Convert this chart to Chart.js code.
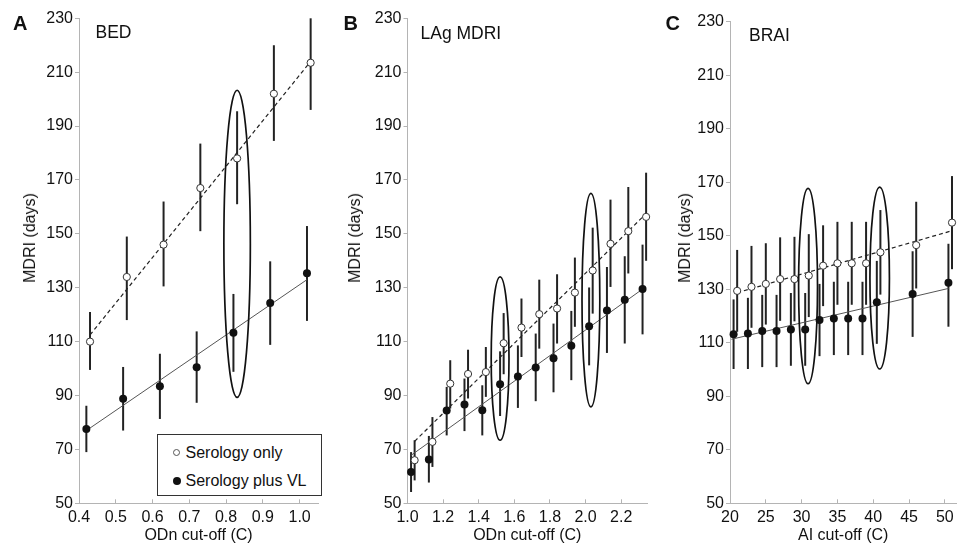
<!DOCTYPE html>
<html>
<head>
<meta charset="utf-8">
<script src="https://cdn.jsdelivr.net/npm/chart.js@4.4.1/dist/chart.umd.min.js"></script>
<style>
  body { margin: 0; background: #fff; }
  #wrap { position: relative; width: 963px; height: 551px; overflow: hidden;
          font-family: "Liberation Sans", Arial, sans-serif; color: #111; }
  canvas { position: absolute; top: 0; }
  .t { position: absolute; white-space: nowrap; line-height: 1; }
  .letter { font-size: 20px; font-weight: bold; }
  .name { font-size: 17.5px; }
  .ytitle { font-size: 16px; transform: translate(-50%, -50%) rotate(-90deg); }
  #legend { position: absolute; left: 157px; top: 434px; width: 165px; height: 62px;
            box-sizing: border-box; border: 1px solid #333; background: #fff; }
  .dot { position: absolute; border-radius: 50%; box-sizing: border-box; }
</style>
</head>
<body>
<div id="wrap">
  <canvas id="chartA" width="323" height="551" style="left:0px"></canvas>
  <canvas id="chartB" width="322" height="551" style="left:330px"></canvas>
  <canvas id="chartC" width="308" height="551" style="left:655px"></canvas>

  <div class="t letter" style="left:13px; top:12.5px">A</div>
  <div class="t letter" style="left:343.5px; top:12.5px">B</div>
  <div class="t letter" style="left:665.5px; top:13px">C</div>

  <div class="t name" style="left:95.5px; top:23.5px">BED</div>
  <div class="t name" style="left:420.5px; top:24.5px">LAg MDRI</div>
  <div class="t name" style="left:749px; top:27px">BRAI</div>

  <div class="t ytitle" style="left:30px; top:238px">MDRI (days)</div>
  <div class="t ytitle" style="left:355px; top:238px">MDRI (days)</div>
  <div class="t ytitle" style="left:685px; top:238px">MDRI (days)</div>

  <div id="legend">
    <div class="dot" style="left:15px; top:14px; width:7px; height:7px; border:1px solid #555; background:#fff"></div>
    <div class="t" style="left:27.5px; top:9.5px; font-size:16px">Serology only</div>
    <div class="dot" style="left:15px; top:42px; width:8px; height:8px; background:#111"></div>
    <div class="t" style="left:27.5px; top:37.5px; font-size:16px">Serology plus VL</div>
  </div>
</div>

<script>
// shared y axis
var yTicks = [50, 70, 90, 110, 130, 150, 170, 190, 210, 230];

// A: BED
var bedXTicks = [0.4, 0.5, 0.6, 0.7, 0.8, 0.9, 1.0];
var bedOnlyX  = [0.43, 0.53, 0.63, 0.73, 0.83, 0.93, 1.03];
var bedOnlyY  = [110, 134, 146, 167, 178, 202, 213.5];
var bedOnlyLo = [99.5, 118, 130.5, 151, 161, 184.5, 196];
var bedOnlyHi = [121, 149, 162, 183.5, 195.5, 220, 230];
var bedPlusX  = [0.42, 0.52, 0.62, 0.72, 0.82, 0.92, 1.02];
var bedPlusY  = [77.6, 88.8, 93.4, 100.5, 113.3, 124.3, 135.4];
var bedPlusLo = [69, 77, 81.3, 87.3, 98.8, 108.8, 117.7];
var bedPlusHi = [86.2, 100.6, 105.5, 113.8, 127.7, 139.8, 152.9];
var bedOnlyFitX = [0.43, 1.03], bedOnlyFitY = [112.5, 214];
var bedPlusFitX = [0.42, 1.02], bedPlusFitY = [77, 133];
var bedOvals = [[0.83, 146.3, 0.036, 57]];   // cx, cy, rx, ry

// B: LAg MDRI
var lagXTicks = [1.0, 1.2, 1.4, 1.6, 1.8, 2.0, 2.2];
var lagOnlyX  = [1.04, 1.14, 1.24, 1.34, 1.44, 1.54, 1.64, 1.74, 1.84, 1.94, 2.04, 2.14, 2.24, 2.34];
var lagOnlyY  = [66, 72.8, 94.4, 98, 98.7, 109.4, 115.2, 120.2, 122.3, 128.2, 136.4, 146.3, 151, 156.3];
var lagOnlyLo = [58.5, 63.5, 85.2, 88.9, 89.5, 97.9, 104.3, 107.4, 109.3, 115.5, 120.4, 130.3, 135.3, 140];
var lagOnlyHi = [73.4, 82, 103.1, 107, 108, 120.6, 126, 133, 135, 141.2, 152.3, 162.7, 167.4, 172.7];
var lagPlusX  = [1.02, 1.12, 1.22, 1.32, 1.42, 1.52, 1.62, 1.72, 1.82, 1.92, 2.02, 2.12, 2.22, 2.32];
var lagPlusY  = [61.6, 66.3, 84.4, 86.7, 84.5, 94.2, 97.1, 100.4, 103.8, 108.5, 115.7, 121.6, 125.5, 129.5];
var lagPlusLo = [54.2, 57.7, 75.2, 76.8, 75.2, 82.4, 85.4, 87.9, 91.2, 95.7, 101.2, 105.8, 109.3, 112.7];
var lagPlusHi = [69, 75, 93.2, 96.3, 93.8, 106.4, 108.6, 113, 116.7, 121.4, 130.1, 137.7, 141.7, 146];
var lagOnlyFitX = [1.04, 2.34], lagOnlyFitY = [73, 157.5];
var lagPlusFitX = [1.02, 2.32], lagPlusFitY = [67.8, 129.5];
var lagOvals = [[1.52, 103.7, 0.05, 30.3], [2.03, 125.4, 0.05, 39.6]];

// C: BRAI
var braiXTicks = [20, 25, 30, 35, 40, 45, 50];
var braiOnlyX  = [21, 23, 25, 27, 29, 31, 33, 35, 37, 39, 41, 46, 51];
var braiOnlyY  = [129.4, 130.9, 132, 133.8, 133.8, 135.1, 138.8, 139.7, 139.7, 139.7, 143.8, 146.5, 154.9];
var braiOnlyLo = [114.1, 115.6, 116.8, 118.2, 118, 119.6, 123.7, 124.2, 124.2, 124.2, 128, 130.3, 137.5];
var braiOnlyHi = [144.7, 146.2, 147.2, 149.4, 149.6, 150.6, 153.9, 155.2, 155.2, 155.2, 159.6, 162.7, 172.3];
var braiPlusX  = [20.5, 22.5, 24.5, 26.5, 28.5, 30.5, 32.5, 34.5, 36.5, 38.5, 40.5, 45.5, 50.5];
var braiPlusY  = [113.2, 113.5, 114.4, 114.4, 115, 115, 118.5, 119.1, 119.1, 119.1, 125.1, 128.2, 132.4];
var braiPlusLo = [100.2, 100.2, 100.9, 100.9, 101.4, 101.4, 105, 105.4, 105.4, 105.4, 109.6, 112.2, 116];
var braiPlusHi = [126.2, 126.8, 127.9, 127.9, 128.6, 128.6, 132, 132.8, 132.8, 132.8, 140.6, 144.2, 147];
var braiOnlyFitX = [21, 50.9], braiOnlyFitY = [128.7, 151.8];
var braiPlusFitX = [20.2, 50.5], braiPlusFitY = [111.3, 130.3];
var braiOvals = [[30.9, 131.2, 1.32, 36.5], [40.9, 134.2, 1.36, 34]];

var FONT = '"Liberation Sans", Arial, sans-serif';
var AXIS = '#b4b4b4';

function pts(xs, ys) {
  return xs.map(function (x, i) { return {x: x, y: ys[i]}; });
}

// vertical error bars, drawn under the points
var errorBars = {
  id: 'errorBars',
  beforeDatasetsDraw: function (chart) {
    var ctx = chart.ctx, xs = chart.scales.x, ys = chart.scales.y;
    ctx.save();
    ctx.strokeStyle = '#222';
    ctx.lineWidth = 2;
    chart.data.datasets.forEach(function (ds) {
      if (!ds.errLo) return;
      ds.data.forEach(function (p, i) {
        var px = xs.getPixelForValue(p.x);
        ctx.beginPath();
        ctx.moveTo(px, ys.getPixelForValue(ds.errLo[i]));
        ctx.lineTo(px, ys.getPixelForValue(ds.errHi[i]));
        ctx.stroke();
      });
    });
    ctx.restore();
  }
};

function ovals(list) {
  return {
    id: 'ovals',
    afterDatasetsDraw: function (chart) {
      var ctx = chart.ctx, xs = chart.scales.x, ys = chart.scales.y;
      ctx.save();
      ctx.strokeStyle = '#111';
      ctx.lineWidth = 1.7;
      list.forEach(function (o) {
        var cx = xs.getPixelForValue(o[0]), cy = ys.getPixelForValue(o[1]);
        var rx = Math.abs(xs.getPixelForValue(o[0] + o[2]) - cx);
        var ry = Math.abs(ys.getPixelForValue(o[1] + o[3]) - cy);
        ctx.beginPath();
        ctx.ellipse(cx, cy, rx, ry, 0, 0, Math.PI * 2);
        ctx.stroke();
      });
      ctx.restore();
    }
  };
}

function panel(id, p) {
  return new Chart(document.getElementById(id), {
    type: 'scatter',
    data: {
      datasets: [
        {label: 'Serology only', data: pts(p.onlyX, p.onlyY), errLo: p.onlyLo, errHi: p.onlyHi, clip: false,
         pointRadius: 3.6, pointBackgroundColor: '#fff', pointBorderColor: '#333', pointBorderWidth: 1, order: 0},
        {label: 'Serology plus VL', data: pts(p.plusX, p.plusY), errLo: p.plusLo, errHi: p.plusHi, clip: false,
         pointRadius: 4, pointBackgroundColor: '#111', pointBorderColor: '#111', pointBorderWidth: 0, order: 0},
        {type: 'line', label: 'fit only', data: pts(p.onlyFitX, p.onlyFitY), borderColor: '#222', clip: false,
         borderWidth: 1.2, borderDash: [4, 3], pointRadius: 0, fill: false, order: 1},
        {type: 'line', label: 'fit plus', data: pts(p.plusFitX, p.plusFitY), borderColor: '#555', clip: false,
         borderWidth: 1, pointRadius: 0, fill: false, order: 1}
      ]
    },
    options: {
      responsive: false,
      animation: false,
      layout: {padding: {left: 0, right: p.padRight, top: p.top, bottom: 5.7}},
      plugins: {legend: {display: false}, tooltip: {enabled: false}},
      scales: {
        x: {
          type: 'linear', min: p.xMin, max: p.xMax,
          afterBuildTicks: function (s) { s.ticks = p.xTicks.map(function (v) { return {value: v}; }); },
          afterFit: function (s) { s.height = 42; },
          border: {display: true, color: AXIS, width: 1},
          grid: {display: true, drawOnChartArea: false, drawTicks: true, tickLength: -4, color: AXIS},
          ticks: {color: '#111', padding: 9, maxRotation: 0, autoSkip: false,
                  font: {family: FONT, size: 16}, callback: p.fmt},
          title: {display: true, text: p.xTitle, color: '#111', padding: 0,
                  font: {family: FONT, size: 16}}
        },
        y: {
          type: 'linear', min: 50, max: 230,
          afterBuildTicks: function (s) { s.ticks = yTicks.map(function (v) { return {value: v}; }); },
          afterFit: function (s) { s.width = p.yWidth; },
          border: {display: true, color: AXIS, width: 1},
          grid: {display: true, drawOnChartArea: false, drawTicks: true, tickLength: 4, color: AXIS},
          ticks: {color: '#111', padding: 2, font: {family: FONT, size: 16}}
        }
      }
    },
    plugins: [errorBars, ovals(p.ovals)]
  });
}

function oneDec(v) { return v.toFixed(1); }
function noDec(v) { return String(v); }

panel('chartA', {
  onlyX: bedOnlyX, onlyY: bedOnlyY, onlyLo: bedOnlyLo, onlyHi: bedOnlyHi,
  plusX: bedPlusX, plusY: bedPlusY, plusLo: bedPlusLo, plusHi: bedPlusHi,
  onlyFitX: bedOnlyFitX, onlyFitY: bedOnlyFitY, plusFitX: bedPlusFitX, plusFitY: bedPlusFitY,
  ovals: bedOvals, xTicks: bedXTicks, xMin: 0.4, xMax: 1.05, fmt: oneDec,
  xTitle: 'ODn cut-off (C)', yWidth: 79, padRight: 2, top: 18.3
});

panel('chartB', {
  onlyX: lagOnlyX, onlyY: lagOnlyY, onlyLo: lagOnlyLo, onlyHi: lagOnlyHi,
  plusX: lagPlusX, plusY: lagPlusY, plusLo: lagPlusLo, plusHi: lagPlusHi,
  onlyFitX: lagOnlyFitX, onlyFitY: lagOnlyFitY, plusFitX: lagPlusFitX, plusFitY: lagPlusFitY,
  ovals: lagOvals, xTicks: lagXTicks, xMin: 1.0, xMax: 2.345, fmt: oneDec,
  xTitle: 'ODn cut-off (C)', yWidth: 77.5, padRight: 4.5, top: 18.3
});

panel('chartC', {
  onlyX: braiOnlyX, onlyY: braiOnlyY, onlyLo: braiOnlyLo, onlyHi: braiOnlyHi,
  plusX: braiPlusX, plusY: braiPlusY, plusLo: braiPlusLo, plusHi: braiPlusHi,
  onlyFitX: braiOnlyFitX, onlyFitY: braiOnlyFitY, plusFitX: braiPlusFitX, plusFitY: braiPlusFitY,
  ovals: braiOvals, xTicks: braiXTicks, xMin: 20, xMax: 51.6, fmt: noDec,
  xTitle: 'AI cut-off (C)', yWidth: 75, padRight: 1.3, top: 21.7
});
</script>
</body>
</html>
